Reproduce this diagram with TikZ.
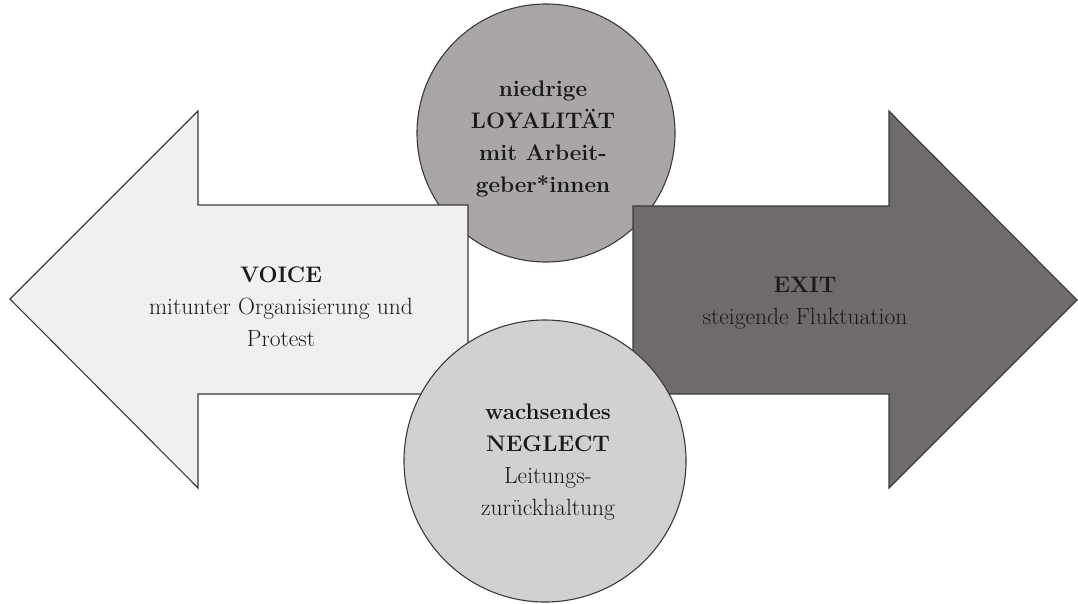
\documentclass[tikz,border=0pt]{standalone}
\usepackage{fontspec}
\definecolor{voicefill}{HTML}{F0F0F0}
\definecolor{exitfill}{HTML}{6F6B6B}
\definecolor{loyalfill}{HTML}{AAA6A6}
\definecolor{neglectfill}{HTML}{D3D0D0}
\definecolor{edgecol}{HTML}{3A3A3A}
\newcommand{\bl}[1]{{\fontsize{22.5}{32}\selectfont\bfseries #1}}
\begin{document}
\begin{tikzpicture}[x=1pt,y=-1pt,
  arrowshape/.style={draw=edgecol,line width=1.1pt,line join=miter},
  ball/.style={circle,draw=edgecol,line width=1.1pt,inner sep=0pt},
  lbl/.style={align=center,font=\fontsize{23.5}{32}\selectfont,text=black!90}]
\useasboundingbox (0,0) rectangle (1078,603);
% top circle (behind arrows)
\node[ball,fill=loyalfill,minimum size=258pt] (loyal) at (546,133) {};
% left arrow VOICE
\draw[arrowshape,fill=voicefill] (10,299) -- (198,111) -- (198,205) -- (468,205) -- (468,394) -- (198,394) -- (198,488) -- cycle;
% right arrow EXIT
\draw[arrowshape,fill=exitfill] (1077,300) -- (889,111) -- (889,206) -- (633,206) -- (633,394) -- (889,394) -- (889,488) -- cycle;
% bottom circle (in front)
\node[ball,fill=neglectfill,minimum size=282pt] (neglect) at (545,461) {};
% labels
\node[lbl] (loyaltext) at (543,139) {\bl{niedrige}\\\bl{LOYALITÄT}\\\bl{mit Arbeit-}\\\bl{geber*innen}};
\node[lbl] (neglecttext) at (548,462) {\bl{wachsendes}\\\bl{NEGLECT}\\Leitungs-\\zurückhaltung};
\node[lbl] (voicetext) at (281,307) {\bl{VOICE}\\mitunter Organisierung und\\Protest};
\node[lbl] (exittext) at (805,303) {\bl{EXIT}\\steigende Fluktuation};
\end{tikzpicture}
\end{document}
